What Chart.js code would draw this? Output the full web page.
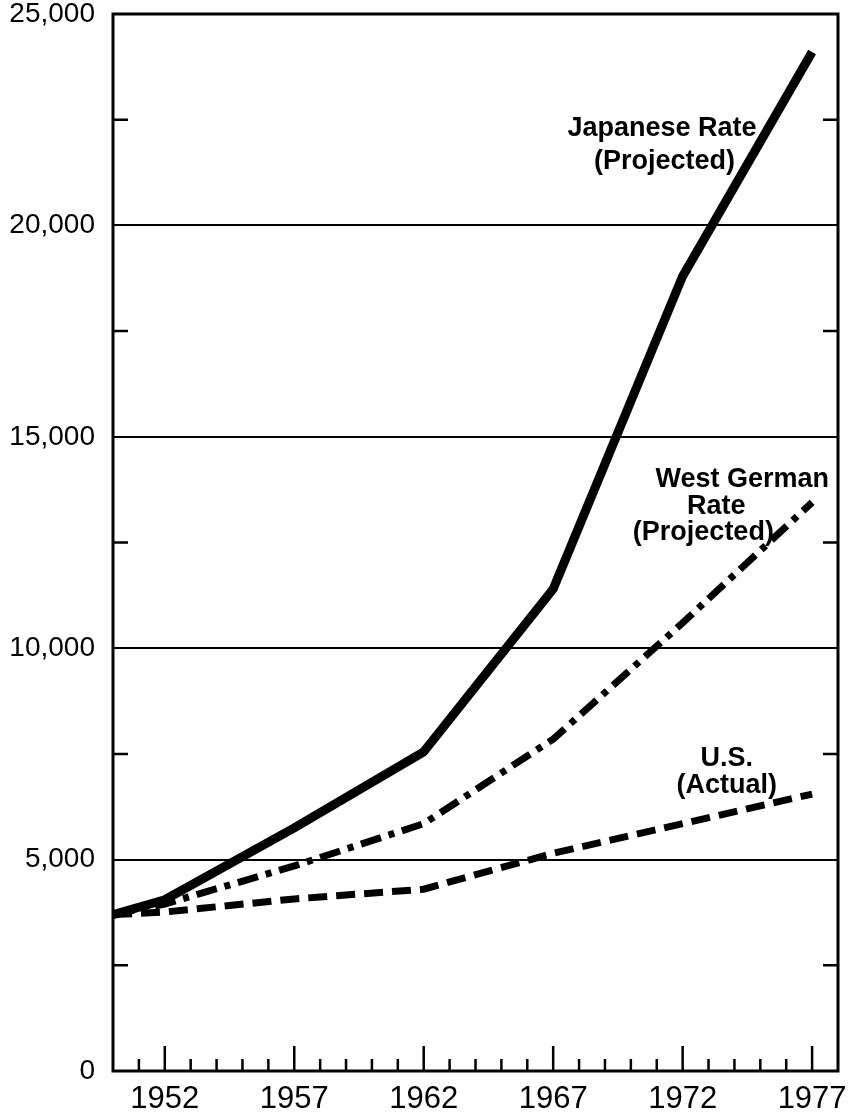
<!DOCTYPE html>
<html>
<head>
<meta charset="utf-8">
<script src="https://cdn.jsdelivr.net/npm/chart.js@4"></script>
<style>
  html, body { margin: 0; padding: 0; background: #fff; }
  #wrap { width: 851px; height: 1113px; position: relative; }
</style>
</head>
<body>
<div id="wrap"><canvas id="chart"></canvas></div>
<script>
// values
const years = [1950, 1952, 1957, 1962, 1967, 1972, 1977];
const japanese = [3700, 4050, 5750, 7550, 11400, 18800, 24100];
const westGerman = [3700, 3950, 4850, 5850, 7850, 10600, 13450];
const usActual = [3700, 3760, 4070, 4300, 5150, 5850, 6550];

const yearLabels = [1952, 1957, 1962, 1967, 1972, 1977];
const yLabelValues = [0, 5000, 10000, 15000, 20000, 25000];

// series labels, anchored at [year, value]
const notes = [
  { text: 'Japanese Rate', at: [1971.2, 22300] },
  { text: '(Projected)', at: [1971.3, 21500] },
  { text: 'West German', at: [1974.3, 14000] },
  { text: 'Rate', at: [1973.3, 13350] },
  { text: '(Projected)', at: [1972.8, 12730] },
  { text: 'U.S.', at: [1973.7, 7400] },
  { text: '(Actual)', at: [1973.7, 6760] }
];

const toPoints = vals => years.map((y, i) => ({ x: y, y: vals[i] }));

const frame = {
  id: 'frame',
  beforeDatasetsDraw(chart) {
    const { ctx, chartArea: a, scales: { x, y } } = chart;
    ctx.save();
    ctx.strokeStyle = '#000';
    ctx.lineWidth = 2.5;
    ctx.beginPath();
    x.ticks.forEach(t => {
      const v = t.value;
      if (v <= x.min || v >= x.max) return;
      const px = x.getPixelForValue(v);
      const len = yearLabels.includes(v) ? 25 : 12;
      ctx.moveTo(px, a.bottom);
      ctx.lineTo(px, a.bottom - len);
    });
    y.ticks.forEach(t => {
      const v = t.value;
      if (v % 5000 === 0) return;
      const py = y.getPixelForValue(v);
      ctx.moveTo(a.left, py);
      ctx.lineTo(a.left + 15, py);
      ctx.moveTo(a.right, py);
      ctx.lineTo(a.right - 15, py);
    });
    ctx.stroke();
    ctx.lineWidth = 3;
    ctx.strokeRect(a.left, a.top, a.right - a.left, a.bottom - a.top);
    ctx.restore();
  },
  afterDatasetsDraw(chart) {
    const { ctx, scales: { x, y } } = chart;
    ctx.save();
    ctx.fillStyle = '#000';
    ctx.font = 'bold 27px "Liberation Sans", Arial, sans-serif';
    ctx.textAlign = 'center';
    ctx.textBaseline = 'middle';
    notes.forEach(n => {
      ctx.fillText(n.text, x.getPixelForValue(n.at[0]), y.getPixelForValue(n.at[1]));
    });
    ctx.restore();
  }
};

new Chart(document.getElementById('chart'), {
  type: 'line',
  data: {
    datasets: [
      {
        label: 'Japanese Rate (Projected)',
        data: toPoints(japanese),
        borderColor: '#000',
        borderWidth: 9,
        borderCapStyle: 'butt',
        borderJoinStyle: 'round'
      },
      {
        label: 'West German Rate (Projected)',
        data: toPoints(westGerman),
        borderColor: '#000',
        borderWidth: 7,
        borderDash: [21, 8, 6, 8],
        borderCapStyle: 'butt'
      },
      {
        label: 'U.S. (Actual)',
        data: toPoints(usActual),
        borderColor: '#000',
        borderWidth: 7,
        borderDash: [19, 9],
        borderCapStyle: 'butt'
      }
    ]
  },
  options: {
    responsive: true,
    maintainAspectRatio: false,
    animation: false,
    layout: { padding: { top: 14, right: 13, left: 0, bottom: 0 } },
    elements: { point: { radius: 0 }, line: { tension: 0 } },
    plugins: { legend: { display: false }, tooltip: { enabled: false } },
    scales: {
      x: {
        type: 'linear',
        min: 1950,
        max: 1978,
        grid: { display: false, drawTicks: false },
        border: { display: false },
        afterFit: s => { s.height = 42; },
        ticks: {
          stepSize: 1,
          autoSkip: false,
          maxRotation: 0,
          padding: 10,
          color: '#000',
          font: { family: '"Liberation Sans", Arial, sans-serif', size: 31 },
          callback: v => yearLabels.includes(v) ? String(v) : ''
        }
      },
      y: {
        min: 0,
        max: 25000,
        grid: {
          drawTicks: false,
          lineWidth: 2,
          color: c => (c.tick && c.tick.value % 5000 === 0) ? '#000' : 'rgba(0,0,0,0)'
        },
        border: { display: false },
        afterFit: s => { s.width = 113; s.paddingTop = 0; s.paddingBottom = 0; },
        ticks: {
          stepSize: 2500,
          autoSkip: false,
          padding: 18,
          color: '#000',
          font: { family: '"Liberation Sans", Arial, sans-serif', size: 28, lineHeight: 1 },
          callback: v => yLabelValues.includes(v) ? v.toLocaleString('en-US') : ''
        }
      }
    }
  },
  plugins: [frame]
});
</script>
</body>
</html>
